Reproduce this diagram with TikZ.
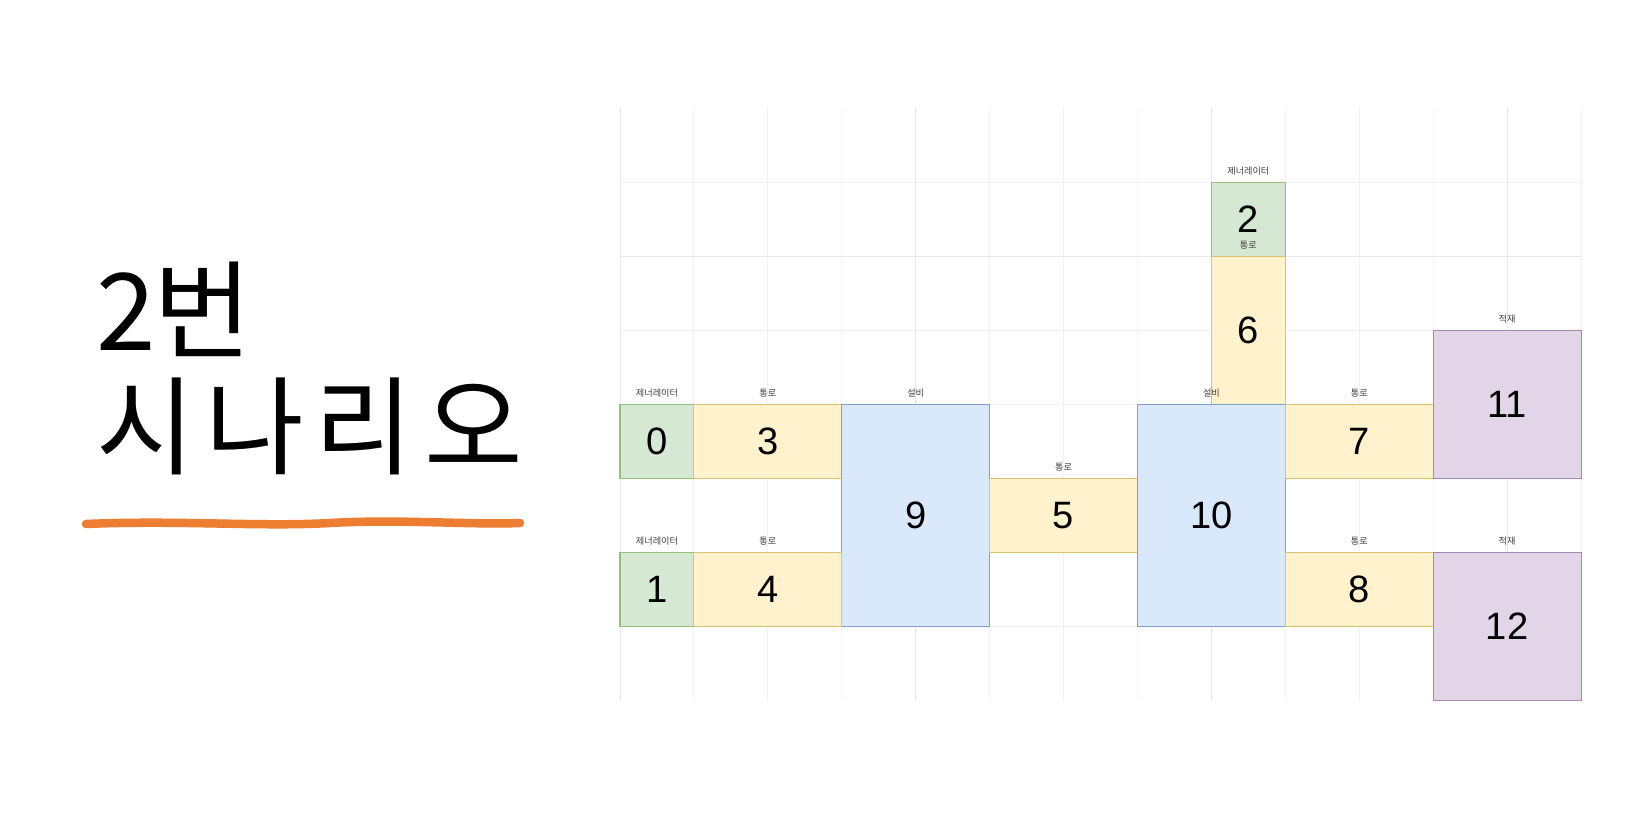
\documentclass[tikz,border=0pt]{standalone}
\usepackage{fontspec}
\setmainfont{Liberation Sans}
\newfontfamily\kr{Noto Sans CJK KR}
\newfontfamily\krwide[LetterSpace=10]{Noto Sans CJK KR}
\definecolor{genfill}{HTML}{D5E8D4}
\definecolor{genline}{HTML}{82B366}
\definecolor{lanefill}{HTML}{FFF2CC}
\definecolor{laneline}{HTML}{D6B656}
\definecolor{equipfill}{HTML}{DAE8FC}
\definecolor{equipline}{HTML}{6C8EBF}
\definecolor{stockfill}{HTML}{E1D5E7}
\definecolor{stockline}{HTML}{9673A6}
\definecolor{brushorange}{HTML}{ED7D31}
\def\cw{1.4788cm}
\def\ch{1.48cm}
\tikzset{
  gridminor/.style={draw=black!5, line width=0.5pt},
  gridmajor/.style={draw=black!9, line width=0.5pt},
  room/.style={draw, line width=0.6pt, inner sep=0pt, font=\fontsize{21.7}{26}\selectfont},
  cells/.style 2 args={minimum width=#1*\cw, minimum height=#2*\ch},
  tag/.style={font=\kr\fontsize{5.2}{6}\selectfont, text=black!75, inner sep=0pt},
  gen/.style={room, fill=genfill, draw=genline!85, label={[tag,label distance=0.13cm]above:제너레이터}},
  lane/.style={room, fill=lanefill, draw=laneline!85, label={[tag,label distance=0.13cm]above:통로}},
  equip/.style={room, fill=equipfill, draw=equipline!85, label={[tag,label distance=0.13cm]above:설비}},
  stock/.style={room, fill=stockfill, draw=stockline!85, label={[tag,label distance=0.13cm]above:적재}},
  title/.style={font=\krwide\fontsize{61}{72}\selectfont, inner sep=0pt, anchor=base west},
  brush/.style={draw=brushorange, line width=0.17cm, line cap=round}
}
\begin{document}
\begin{tikzpicture}[x=0.02cm,y=-0.02cm]
\useasboundingbox[fill=white] (0,0) rectangle (1625,813);

\node[title] (title1) at (96,351) {2\kern-0.02em 번};
\node[title] (title2) at (96,467) {시나리오};
\draw[brush] (86,524) .. controls (180,520) and (260,527) .. (330,523) .. controls (400,519) and (470,525) .. (520,523);

\begin{scope}[shift={(620,108.3)}, x=1.4788cm, y=-1.48cm]
\foreach \c in {0,...,13} \draw[gridminor] (\c,0) -- (\c,8);
\foreach \r in {1,...,7} \draw[gridminor] (0,\r) -- (13,\r);
\foreach \c in {0,4,8,12} \draw[gridmajor] (\c,0) -- (\c,8);
\foreach \r in {2,6} \draw[gridmajor] (0,\r) -- (13,\r);

\node[gen, cells={1}{1}] (gen0) at (0.5,4.5) {0};
\node[lane, cells={2}{1}] (lane3) at (2,4.5) {3};
\node[equip, cells={2}{3}] (equip9) at (4,5.5) {9};
\node[gen, cells={1}{1}] (gen1) at (0.5,6.5) {1};
\node[lane, cells={2}{1}] (lane4) at (2,6.5) {4};
\node[lane, cells={2}{1}] (lane5) at (6,5.5) {5};
\node[gen, cells={1}{1}] (gen2) at (8.5,1.5) {2};
\node[lane, cells={1}{2}] (lane6) at (8.5,3) {6};
\node[equip, cells={2}{3}] (equip10) at (8,5.5) {10};
\node[lane, cells={2}{1}] (lane7) at (10,4.5) {7};
\node[stock, cells={2}{2}] (stock11) at (12,4) {11};
\node[lane, cells={2}{1}] (lane8) at (10,6.5) {8};
\node[stock, cells={2}{2}] (stock12) at (12,7) {12};
\end{scope}
\end{tikzpicture}
\end{document}
